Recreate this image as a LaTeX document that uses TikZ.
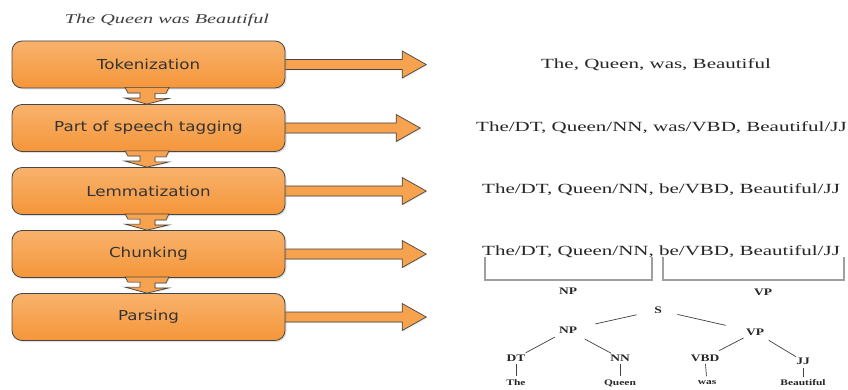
\documentclass[tikz,border=0pt]{standalone}
\usepackage{fontspec}
\usetikzlibrary{calc,shadows}
\newfontfamily\boxfont[FakeStretch=1.22]{DejaVu Sans}
\newfontfamily\rowfont[FakeStretch=1.5]{Liberation Serif}
\newfontfamily\treefont[FakeStretch=1.35]{Liberation Serif}
\definecolor{orangeTop}{RGB}{248,178,108}
\definecolor{orangeBot}{RGB}{245,150,58}
\definecolor{orangeFlat}{RGB}{246,162,78}
\definecolor{edgegray}{RGB}{70,70,70}

% block arrow from a stage to the right; #2 = shaft length
\newcommand\rightblock[2]{%
  \draw[blockarrow] ($(#1.east)+(-4,-5)$) -- ++(#2,0) -- ++(0,-8.5) -- ++(24,13.5)
    -- ++(-24,13.5) -- ++(0,-8.5) -- ++(-#2,0) -- cycle;}
% small downward connector between two stages
\newcommand\downblock[2]{%
  \draw[blockarrow] ($(#1.south)+(-23.5,-1)$) -- ++(44,0) -- ++(-3,6) -- ++(-11,0)
    -- ++(0,5) -- ++(14,0) -- ($(#2.north)+(-1.5,0)$) -- ++(-22,-6) -- ++(15,0)
    -- ++(0,-5) -- ++(-12,0) -- cycle;}

\begin{document}
\begin{tikzpicture}[x=1pt,y=-1pt,
  slot/.style={minimum width=273pt, minimum height=47pt, inner sep=0pt},
  stage/.style={slot, draw=edgegray, line width=0.8pt, rounded corners=10pt,
    top color=orangeTop, bottom color=orangeBot,
    drop shadow={opacity=0.25, shadow xshift=1.5pt, shadow yshift=-1.5pt},
    font=\boxfont\fontsize{13.7}{16}\selectfont, text=black!80},
  blockarrow/.style={draw=edgegray, line width=0.7pt, fill=orangeFlat,
    drop shadow={opacity=0.2, shadow xshift=1pt, shadow yshift=-1pt}},
  rowtext/.style={font=\rowfont\fontsize{14}{16}\selectfont, text=black!85, inner sep=0pt},
  title/.style={font=\rowfont\itshape\fontsize{13.5}{16}\selectfont, text=black!75, inner sep=0pt},
  lab/.style={font=\treefont\bfseries\fontsize{10}{12}\selectfont, text=black!85, inner sep=0pt},
  word/.style={font=\treefont\bfseries\fontsize{8.5}{10}\selectfont, text=black!85, inner sep=0pt},
  branch/.style={draw=black!75, line width=0.7pt},
  bracket/.style={draw=gray!75, line width=1.2pt}]

\useasboundingbox (0,0) rectangle (848,390);
\fill[white] (0,0) rectangle (848,390);

% title
\node[title] (title) at (167,20) {The Queen was Beautiful};

% stage slots (the arrows start inside them, the boxes are drawn on top)
\path (148.5,64.5) node[slot] (g1) {}
      (148.5,128)  node[slot] (g2) {}
      (148.5,191)  node[slot] (g3) {}
      (148.5,254)  node[slot] (g4) {}
      (148.5,317)  node[slot] (g5) {};
\rightblock{g1}{121}
\rightblock{g2}{115}
\rightblock{g3}{121}
\rightblock{g4}{121}
\rightblock{g5}{121}

% processing stages
\node[stage] (b1) at (g1) {Tokenization};
\node[stage] (b2) at (g2) {Part of speech tagging};
\node[stage] (b3) at (g3) {Lemmatization};
\node[stage] (b4) at (g4) {Chunking};
\node[stage] (b5) at (g5) {Parsing};

\downblock{b1}{b2}
\downblock{b2}{b3}
\downblock{b3}{b4}
\downblock{b4}{b5}

% results of each stage
\node[rowtext] (r1) at (656,65) {The, Queen, was, Beautiful};
\node[rowtext, anchor=west] (r2) at (476,128) {The/DT, Queen/NN, was/VBD, Beautiful/JJ};
\node[rowtext, anchor=west] (r3) at (482,190) {The/DT, Queen/NN, be/VBD, Beautiful/JJ};
\node[rowtext, anchor=west] (r4) at (482,252) {The/DT, Queen/NN, be/VBD, Beautiful/JJ};

% chunk brackets
\draw[bracket] (485,257) |- (652,280) -- (652,257);
\draw[bracket] (663,257) |- (844,280) -- (844,257);
\node[lab] (cnp) at (568,291) {NP};
\node[lab] (cvp) at (763,292) {VP};

% parse tree
\node[lab] (S)   at (658,310) {S};
\node[lab] (NP)  at (568,330) {NP};
\node[lab] (VP)  at (755,332) {VP};
\node[lab] (DT)  at (516,358) {DT};
\node[lab] (NN)  at (620,358) {NN};
\node[lab] (VBD) at (705,358) {VBD};
\node[lab] (JJ)  at (803,361) {JJ};
\node[word] (wThe)   at (516,383) {The};
\node[word] (wQueen) at (620,383) {Queen};
\node[word] (wwas)   at (707,383) {was};
\node[word] (wBeau)  at (803,383) {Beautiful};

\draw[branch, shorten <=28pt, shorten >=22pt] (NP.center) -- (S.center);
\draw[branch, shorten <=20pt, shorten >=30pt] (S.center) -- (VP.center);
\draw[branch, shorten <=15pt, shorten >=11pt] (NP.center) -- (DT.center);
\draw[branch, shorten <=19pt, shorten >=10pt] (NP.center) -- (NN.center);
\draw[branch, shorten <=13pt, shorten >=16pt] (VP.center) -- (VBD.center);
\draw[branch, shorten <=16pt, shorten >=8pt]  (VP.center) -- (JJ.center);
\draw[branch, shorten <=6pt, shorten >=7pt] (DT.center) -- (wThe.center);
\draw[branch, shorten <=6pt, shorten >=7pt] (NN.center) -- (wQueen.center);
\draw[branch, shorten <=6pt, shorten >=7pt] (VBD.center) -- (wwas.center);
\draw[branch, shorten <=7pt, shorten >=6pt] (JJ.center) -- (wBeau.center);
\end{tikzpicture}
\end{document}
